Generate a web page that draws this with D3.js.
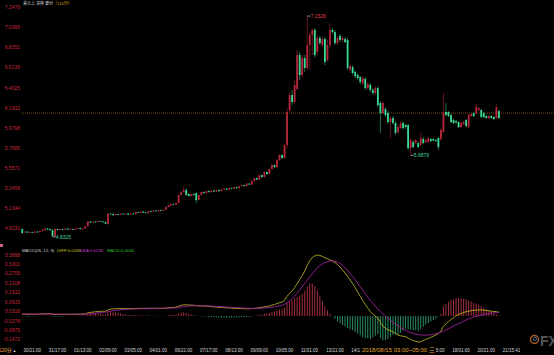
<!DOCTYPE html>
<html>
<head>
<meta charset="utf-8">
<script src="https://cdn.jsdelivr.net/npm/d3@7"></script>
<style>
body { margin: 0; background: #000; overflow: hidden; }
text { font-family: "Liberation Sans", Arial, "Noto Sans CJK SC", sans-serif; }
</style>
</head>
<body>
<svg id="chart" width="554" height="355"></svg>
<script>
// 120-minute candles: [open, high, low, close]
var ohlc = [
[4.914,4.919,4.866,4.872],[4.882,4.893,4.877,4.887],[4.887,4.893,4.872,4.877],[4.877,4.887,4.872,4.882],[4.882,4.887,4.872,4.877],
[4.877,4.893,4.872,4.887],[4.887,4.893,4.877,4.882],[4.882,4.898,4.877,4.893],[4.893,4.914,4.887,4.908],[4.903,4.924,4.898,4.919],
[4.919,4.924,4.903,4.908],[4.914,4.919,4.898,4.903],[4.903,4.914,4.8325,4.840],[4.840,4.924,4.835,4.914],[4.914,4.919,4.898,4.903],
[4.903,4.919,4.898,4.914],[4.914,4.919,4.903,4.908],[4.908,4.924,4.903,4.919],[4.919,4.924,4.903,4.908],[4.908,4.919,4.903,4.914],
[4.914,4.919,4.903,4.908],[4.908,4.924,4.903,4.919],[4.919,4.929,4.914,4.924],[4.924,4.929,4.908,4.914],[4.914,4.924,4.908,4.919],
[4.919,4.950,4.914,4.945],[4.945,4.998,4.940,4.992],[4.992,4.998,4.977,4.982],[4.982,4.998,4.977,4.992],[4.992,4.998,4.982,4.987],
[4.987,5.003,4.982,4.998],[4.998,5.003,4.987,4.992],[4.992,4.998,4.982,4.987],[4.987,4.992,4.966,4.971],[4.966,5.082,4.961,5.077],
[5.077,5.082,5.066,5.071],[5.071,5.077,5.055,5.061],[5.061,5.077,5.055,5.071],[5.071,5.077,5.061,5.066],[5.066,5.082,5.061,5.077],
[5.077,5.082,5.066,5.071],[5.071,5.082,5.066,5.077],[5.077,5.082,5.061,5.066],[5.066,5.082,5.061,5.077],[5.077,5.082,5.066,5.071],
[5.071,5.098,5.066,5.092],[5.092,5.098,5.082,5.087],[5.087,5.103,5.082,5.098],[5.098,5.103,5.082,5.087],[5.087,5.092,5.077,5.082],
[5.082,5.108,5.077,5.103],[5.103,5.108,5.092,5.098],[5.098,5.113,5.092,5.108],[5.108,5.113,5.098,5.103],[5.103,5.119,5.098,5.113],
[5.113,5.119,5.103,5.108],[5.108,5.124,5.103,5.119],[5.119,5.150,5.113,5.145],[5.145,5.171,5.140,5.166],[5.161,5.182,5.155,5.176],
[5.176,5.182,5.166,5.171],[5.171,5.192,5.166,5.187],[5.187,5.282,5.182,5.271],[5.271,5.313,5.266,5.303],[5.303,5.366,5.297,5.324],
[5.324,5.345,5.266,5.271],[5.282,5.292,5.255,5.261],[5.261,5.287,5.255,5.282],[5.282,5.287,5.266,5.271],[5.292,5.297,5.187,5.219],
[5.219,5.276,5.213,5.271],[5.271,5.308,5.266,5.303],[5.303,5.308,5.287,5.292],[5.292,5.318,5.287,5.313],[5.313,5.318,5.297,5.303],
[5.303,5.324,5.297,5.318],[5.318,5.324,5.303,5.308],[5.308,5.329,5.303,5.324],[5.324,5.329,5.308,5.313],[5.313,5.334,5.308,5.329],
[5.329,5.345,5.324,5.339],[5.339,5.345,5.324,5.329],[5.329,5.350,5.324,5.345],[5.345,5.350,5.334,5.339],[5.339,5.360,5.334,5.355],
[5.355,5.360,5.339,5.345],[5.345,5.371,5.339,5.366],[5.366,5.381,5.360,5.376],[5.376,5.381,5.360,5.366],[5.366,5.397,5.360,5.392],
[5.392,5.397,5.376,5.381],[5.381,5.423,5.376,5.418],[5.418,5.455,5.413,5.450],[5.450,5.455,5.429,5.434],[5.434,5.487,5.429,5.481],
[5.481,5.487,5.455,5.460],[5.460,5.518,5.455,5.513],[5.513,5.518,5.487,5.492],[5.492,5.550,5.487,5.545],[5.545,5.597,5.539,5.587],
[5.587,5.592,5.560,5.566],[5.566,5.650,5.560,5.639],[5.639,5.702,5.634,5.692],[5.692,5.697,5.655,5.660],[5.660,5.807,5.655,5.797],
[5.797,6.186,5.765,6.144],[6.165,6.354,6.144,6.323],[6.323,6.375,6.217,6.249],[6.249,6.480,6.228,6.428],[6.386,6.796,6.375,6.743],
[6.743,6.775,6.480,6.533],[6.533,6.743,6.501,6.712],[6.712,6.743,6.564,6.607],[6.607,7.1528,6.586,6.848],[6.848,6.985,6.586,6.954],
[6.954,7.027,6.743,7.006],[7.006,7.027,6.722,6.743],[6.775,6.943,6.743,6.922],[6.922,6.943,6.848,6.869],[6.848,6.932,6.827,6.911],
[6.911,6.932,6.638,6.670],[6.691,6.901,6.670,6.848],[6.848,7.080,6.827,7.006],[7.006,7.027,6.964,6.985],[6.985,7.006,6.848,6.869],
[6.869,6.943,6.848,6.922],[6.943,6.964,6.880,6.901],[6.901,6.943,6.880,6.922],[6.911,6.932,6.869,6.880],[6.901,6.922,6.586,6.607],
[6.586,6.649,6.554,6.628],[6.617,6.638,6.533,6.554],[6.564,6.586,6.501,6.522],[6.533,6.554,6.480,6.501],[6.512,6.522,6.438,6.459],
[6.449,6.522,6.428,6.501],[6.491,6.512,6.375,6.396],[6.396,6.459,6.375,6.438],[6.428,6.449,6.354,6.375],[6.375,6.396,6.323,6.344],
[6.344,6.417,6.323,6.396],[6.396,6.417,6.196,6.217],[6.239,6.260,5.923,6.133],[6.133,6.260,6.123,6.239],[6.175,6.196,6.091,6.112],
[6.133,6.154,6.018,6.039],[6.039,6.102,5.870,6.081],[6.081,6.102,6.007,6.028],[6.028,6.049,5.902,5.923],[5.934,6.007,5.912,5.986],
[5.976,6.049,5.965,6.028],[6.028,6.049,5.955,5.976],[6.007,6.018,5.965,5.986],[6.007,6.018,5.744,5.765],[5.765,5.870,5.6879,5.849],
[5.828,5.849,5.765,5.776],[5.818,5.860,5.807,5.849],[5.818,5.839,5.765,5.776],[5.797,5.934,5.786,5.870],[5.860,5.881,5.807,5.818],
[5.828,5.860,5.818,5.849],[5.828,5.881,5.818,5.870],[5.860,5.870,5.828,5.839],[5.860,5.870,5.839,5.844],[5.849,5.860,5.828,5.839],
[5.870,5.881,5.744,5.776],[5.860,5.976,5.839,5.955],[5.934,6.344,5.923,6.144],[6.144,6.239,6.102,6.112],[6.144,6.154,6.091,6.102],
[6.112,6.123,6.028,6.039],[6.060,6.070,6.018,6.028],[6.049,6.060,6.018,6.034],[6.039,6.049,5.976,5.986],[5.986,6.039,5.976,6.028],
[6.018,6.049,6.007,6.039],[6.060,6.070,5.986,5.997],[5.986,6.123,5.976,6.112],[6.102,6.133,6.091,6.123],[6.133,6.144,6.091,6.102],
[6.133,6.228,6.123,6.196],[6.165,6.196,6.154,6.186],[6.165,6.175,6.081,6.091],[6.133,6.144,6.081,6.091],[6.102,6.112,6.070,6.081],
[6.081,6.112,6.070,6.102],[6.102,6.112,6.070,6.081],[6.091,6.102,6.060,6.070],[6.081,6.228,6.070,6.196],[6.154,6.165,6.070,6.081]
];

// MACD(26,12,9) lines
var diff = [
0.012,0.012,0.011,0.011,0.011,0.011,0.011,0.012,0.013,0.014,
0.015,0.015,0.011,0.010,0.010,0.010,0.010,0.011,0.011,0.011,
0.011,0.012,0.012,0.012,0.012,0.014,0.020,0.023,0.025,0.027,
0.029,0.030,0.030,0.030,0.038,0.043,0.045,0.046,0.047,0.047,
0.047,0.047,0.047,0.047,0.047,0.048,0.048,0.048,0.049,0.048,
0.049,0.049,0.049,0.049,0.049,0.049,0.049,0.050,0.052,0.054,
0.055,0.056,0.062,0.067,0.071,0.071,0.070,0.069,0.068,0.066,
0.065,0.064,0.063,0.062,0.060,0.059,0.058,0.057,0.055,0.054,
0.053,0.052,0.051,0.050,0.049,0.048,0.048,0.047,0.046,0.046,
0.046,0.047,0.049,0.050,0.053,0.055,0.058,0.060,0.064,0.069,
0.073,0.079,0.084,0.089,0.100,0.125,0.143,0.160,0.180,0.205,
0.230,0.255,0.285,0.320,0.350,0.370,0.380,0.386,0.383,0.377,
0.368,0.362,0.355,0.348,0.338,0.326,0.310,0.292,0.272,0.250,
0.228,0.205,0.180,0.152,0.125,0.098,0.073,0.050,0.028,0.012,
0.000,-0.012,-0.040,-0.065,-0.078,-0.088,-0.093,-0.100,-0.110,-0.120,
-0.125,-0.128,-0.130,-0.140,-0.148,-0.155,-0.160,-0.165,-0.162,-0.155,
-0.148,-0.142,-0.135,-0.128,-0.120,-0.110,-0.095,-0.065,-0.050,-0.035,
-0.022,-0.010,0.002,0.010,0.016,0.022,0.028,0.031,0.034,0.036,
0.037,0.038,0.038,0.037,0.035,0.033,0.031,0.029,0.027,0.0248
];
var dea = [
0.013,0.013,0.013,0.013,0.012,0.012,0.012,0.012,0.012,0.013,
0.013,0.013,0.013,0.012,0.012,0.012,0.012,0.011,0.011,0.011,
0.011,0.011,0.011,0.011,0.011,0.012,0.013,0.014,0.016,0.018,
0.020,0.022,0.024,0.025,0.027,0.030,0.033,0.035,0.037,0.039,
0.041,0.042,0.043,0.044,0.044,0.045,0.046,0.046,0.047,0.047,
0.047,0.048,0.048,0.048,0.048,0.048,0.049,0.049,0.049,0.050,
0.051,0.052,0.054,0.056,0.059,0.061,0.063,0.064,0.065,0.065,
0.065,0.065,0.065,0.064,0.064,0.063,0.062,0.061,0.060,0.059,
0.058,0.057,0.056,0.055,0.054,0.053,0.052,0.051,0.050,0.049,
0.049,0.048,0.048,0.048,0.049,0.050,0.051,0.052,0.054,0.056,
0.058,0.061,0.064,0.068,0.074,0.084,0.096,0.110,0.125,0.145,
0.165,0.185,0.205,0.226,0.247,0.267,0.286,0.305,0.318,0.330,
0.338,0.344,0.348,0.349,0.347,0.342,0.333,0.320,0.305,0.288,
0.270,0.250,0.230,0.208,0.186,0.165,0.143,0.120,0.100,0.080,
0.062,0.045,0.028,0.012,-0.002,-0.015,-0.027,-0.040,-0.052,-0.062,
-0.072,-0.082,-0.090,-0.098,-0.105,-0.110,-0.115,-0.118,-0.120,-0.121,
-0.121,-0.120,-0.118,-0.115,-0.112,-0.108,-0.103,-0.096,-0.088,-0.080,
-0.072,-0.063,-0.055,-0.047,-0.040,-0.032,-0.025,-0.018,-0.012,-0.006,
-0.002,0.002,0.006,0.010,0.013,0.016,0.018,0.020,0.022,0.0230
];

var priceTicks = [7.2479, 7.0366, 6.8252, 6.6139, 6.4025, 6.1912, 5.9798, 5.7685, 5.5571, 5.3458, 5.1344, 4.9231];
var macdTicks = [0.3898, 0.3301, 0.2705, 0.2108, 0.1512, 0.0915, 0.0318, -0.0278, -0.0875, -0.1472];
var timeLabels = ["30/21:00", "31/17:00", "01/13:00", "02/09:00", "03/05:00", "04/01:00", "06/21:00", "07/17:00",
    "08/13:00", "09/09:00", "10/05:00", "11/01:00", "13/21:00", "14/17:00", "15/13:00", "16/09:00",
    "17/05:00", "18/01:00", "20/21:00", "21/15:41"];
var refPrice = 6.1328;
var markIdx = [{ i: 113, type: "high" }, { i: 12, type: "low" }, { i: 154, type: "low" }];
var legendVals = { diff: "0.0248", dea: "0.0230", macd: "0.0034" };
var hoverIdx = 135;
var hoverText = "2018/08/15 03:00~05:00 三";
var titleText = "美元上 深林 要价";
var periodText = "（120分）";

var svg = d3.select("#chart");
svg.append("rect").attr("width", 554).attr("height", 355).attr("fill", "#000");

var N = ohlc.length;
var x = d3.scaleLinear().domain([0, N]).range([21, 21 + N * 2.522]);
var y = d3.scaleLinear().domain([4.9231, 7.2479]).range([228.2, 7]);
var ym = d3.scaleLinear().domain([-0.1472, 0.3898]).range([339.3, 254.4]);

var upCol = "#b5273b", downCol = "#3ad996";

// reference price dotted line
svg.append("line")
    .attr("x1", 21).attr("x2", 554)
    .attr("y1", y(refPrice)).attr("y2", y(refPrice))
    .attr("stroke", "#9a5c1c")
    .attr("stroke-width", 0.8)
    .attr("stroke-dasharray", "1,1");

// candles
var cg = svg.append("g");
cg.selectAll(".wick").data(ohlc).enter().append("line")
    .attr("x1", function (d, i) { return x(i + 0.5); })
    .attr("x2", function (d, i) { return x(i + 0.5); })
    .attr("y1", function (d) { return y(d[1]); })
    .attr("y2", function (d) { return y(d[2]); })
    .attr("stroke", function (d) { return d[3] >= d[0] ? "#8a1e2e" : "#2a9c69"; })
    .attr("stroke-width", 0.7);

cg.selectAll(".body").data(ohlc).enter().append("rect")
    .attr("x", function (d, i) { return x(i + 0.5) - 0.9; })
    .attr("width", 1.8)
    .attr("y", function (d) { return y(Math.max(d[0], d[3])); })
    .attr("height", function (d) { return Math.max(0.7, Math.abs(y(d[0]) - y(d[3]))); })
    .attr("fill", function (d) { return d[3] >= d[0] ? upCol : downCol; });

// high / low marks
markIdx.forEach(function (m) {
    var d = ohlc[m.i];
    var v = m.type == "high" ? d[1] : d[2];
    var cx = x(m.i + 0.5);
    svg.append("line")
        .attr("x1", cx).attr("x2", cx + 3)
        .attr("y1", y(v)).attr("y2", y(v))
        .attr("stroke", "#bbb").attr("stroke-width", 0.8);
    svg.append("text")
        .attr("x", cx + 3.2).attr("y", y(v) + 1.7)
        .attr("font-size", 5)
        .attr("fill", m.type == "high" ? "#e0384c" : "#3fd89a")
        .text(v.toFixed(4));
});

// MACD histogram
svg.append("g").selectAll("line").data(diff).enter().append("line")
    .attr("x1", function (d, i) { return x(i + 0.5); })
    .attr("x2", function (d, i) { return x(i + 0.5); })
    .attr("y1", ym(0))
    .attr("y2", function (d, i) { return ym(2 * (d - dea[i])); })
    .attr("stroke", function (d, i) { return d - dea[i] >= 0 ? "#b8344a" : "#2f9e6e"; })
    .attr("stroke-width", 0.9);

var mline = d3.line()
    .x(function (d, i) { return x(i + 0.5); })
    .y(function (d) { return ym(d); });

svg.append("path").datum(diff)
    .attr("d", mline).attr("fill", "none")
    .attr("stroke", "#b5ad1e").attr("stroke-width", 0.9);
svg.append("path").datum(dea)
    .attr("d", mline).attr("fill", "none")
    .attr("stroke", "#a0229e").attr("stroke-width", 0.9);

// y axes
function styleAxis(g, size, col) {
    g.select(".domain").remove();
    g.attr("font-size", size).attr("font-family", null);
    g.selectAll("text").attr("fill", col);
}
svg.append("g")
    .attr("transform", "translate(21,0)")
    .call(d3.axisLeft(y).tickValues(priceTicks).tickSize(0).tickPadding(1)
        .tickFormat(function (d) { return d.toFixed(4); }))
    .call(styleAxis, 5, "#c8283c");

svg.append("g")
    .attr("transform", "translate(21,0)")
    .call(d3.axisLeft(ym).tickValues(macdTicks).tickSize(0).tickPadding(1)
        .tickFormat(function (d) { return d.toFixed(4); }))
    .call(styleAxis, 5, "#c8283c");

// x axis
var hx = x(hoverIdx);
var xAxisG = svg.append("g")
    .attr("transform", "translate(0,348.4)")
    .call(d3.axisBottom(x).tickValues(d3.range(0, timeLabels.length * 10, 10)).tickSize(0).tickPadding(0)
        .tickFormat(function (d, k) { return timeLabels[k]; }))
    .call(styleAxis, 4.5, "#d8d8d8");
xAxisG.selectAll("text")
    .attr("text-anchor", "start")
    .attr("dx", 2);

// hover time box on the axis
var hbox = svg.append("rect")
    .attr("x", hx).attr("y", 344).attr("height", 11)
    .attr("fill", "#000");
var ht = svg.append("text")
    .attr("x", hx + 0.5).attr("y", 352.2)
    .attr("font-size", 6)
    .attr("fill", "#e2a232")
    .text(hoverText);
var hw = ht.node().getComputedTextLength() + 1.5;
hbox.attr("width", hw);

// axis labels under the hover box: only the parts outside it stay visible
xAxisG.selectAll(".tick").each(function (d) {
    var t = d3.select(this).select("text");
    var node = t.node();
    var full = t.text();
    var s = x(d) + 2;
    var w = node.getComputedTextLength();
    if (s + w <= hx || s >= hx + hw) return;
    if (s < hx) {
        // head stays, tail is hidden
        var k = full.length;
        while (k > 0 && s + node.getSubStringLength(0, k) > hx + 0.5) k--;
        t.text(full.slice(0, k));
    } else if (s + w > hx + hw) {
        // head is hidden, tail stays
        var c = 0;
        while (c < full.length && s + node.getSubStringLength(0, c + 1) <= hx + hw + 0.5) c++;
        var off = node.getSubStringLength(0, c);
        t.text(full.slice(c)).attr("dx", 2 + off);
    } else {
        d3.select(this).remove();
    }
});

// title
var title = svg.append("text").attr("x", 23).attr("y", 5.2).attr("font-size", 4)
    .attr("font-family", "'Noto Sans CJK SC', sans-serif");
title.append("tspan").attr("fill", "#dcdcdc").text(titleText);
title.append("tspan").attr("fill", "#d4a020").text(periodText);

// MACD legend
var legend = [
    { x: 22, t: "MACD(26, 12, 9)", c: "#cfcfcf" },
    { x: 57, t: "DIFF:" + legendVals.diff, c: "#c8c21e" },
    { x: 80, t: "DEA:" + legendVals.dea, c: "#c33cc3" },
    { x: 107, t: "MACD:" + legendVals.macd, c: "#2fc02f" }
];
svg.selectAll(".lg").data(legend).enter().append("text")
    .attr("x", function (d) { return d.x; })
    .attr("y", 251.6)
    .attr("font-size", 4.3)
    .attr("fill", function (d) { return d.c; })
    .text(function (d) { return d.t; });

svg.append("rect").attr("x", 0).attr("y", 244).attr("width", 3).attr("height", 3).attr("fill", "#d0607a");

// period button bottom-left
var pb = svg.append("text").attr("x", -1.5).attr("y", 352).attr("font-size", 5)
    .attr("font-family", "'Noto Sans CJK SC', sans-serif");
pb.append("tspan").attr("fill", "#e8a448").text("120分");
pb.append("tspan").attr("fill", "#f0f0f0").attr("dx", 1).attr("font-size", 3.5).text("▲");

// watermark logo
svg.append("circle").attr("cx", 534.5).attr("cy", 339.5).attr("r", 4)
    .attr("fill", "none").attr("stroke", "#d9782a").attr("stroke-width", 1.4).attr("opacity", 0.8);
svg.append("circle").attr("cx", 535).attr("cy", 339).attr("r", 1.6)
    .attr("fill", "none").attr("stroke", "#4a7fb0").attr("stroke-width", 1).attr("opacity", 0.8);
svg.append("text").attr("x", 540).attr("y", 345.5).attr("font-size", 14).attr("font-weight", "bold")
    .attr("fill", "#6a6a6a").attr("opacity", 0.8).text("FX");
</script>
</body>
</html>
